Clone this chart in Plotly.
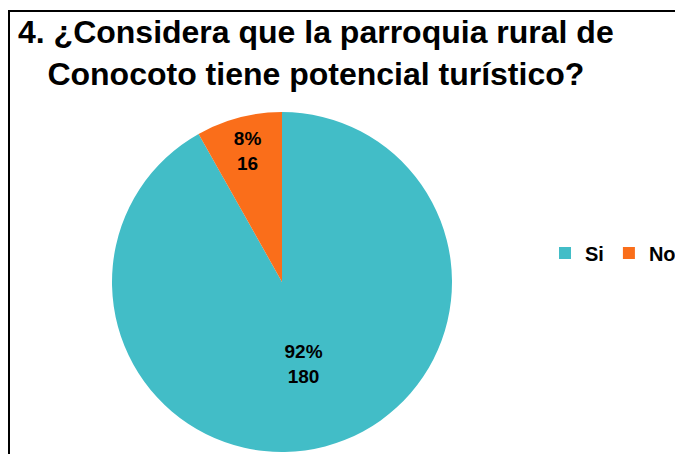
import plotly.graph_objects as go

labels = ["Si", "No"]
values = [180, 16]
percents = ["92%", "8%"]
colors = ["#42BDC7", "#FA6E1A"]
title_text = "<b>4. ¿Considera que la parroquia rural de<br>Conocoto tiene potencial turístico?</b>"

FONT = "Liberation Sans, Arial, sans-serif"
W, H = 683, 454

fig = go.Figure(go.Pie(
    labels=labels,
    values=values,
    customdata=percents,
    sort=False,
    direction="clockwise",
    rotation=0,
    marker=dict(colors=colors, line=dict(width=0)),
    texttemplate="<b>%{customdata}</b><br><b>%{value}</b>",
    textposition="inside",
    insidetextorientation="horizontal",
    textfont=dict(family=FONT, size=19, color="black"),
    hoverinfo="label+value+percent",
    domain=dict(x=[104/W, 444/W], y=[10/H, 1 - 104/H]),
))

fig.update_layout(
    width=W, height=H,
    margin=dict(l=0, r=0, t=0, b=0, autoexpand=False),
    paper_bgcolor="white",
    plot_bgcolor="white",
    legend=dict(
        orientation="h",
        x=537/W, xanchor="left",
        y=1 - 245/H, yanchor="middle",
        font=dict(family=FONT, size=20, color="black", weight="bold"),
        bgcolor="rgba(0,0,0,0)",
    ),
    annotations=[dict(
        text=title_text, showarrow=False,
        xref="paper", yref="paper",
        x=308/W, xanchor="center",
        y=1 - 4/H, yanchor="top",
        align="center",
        font=dict(family=FONT, size=32, color="black"),
    )],
    shapes=[dict(
        type="rect", xref="paper", yref="paper",
        x0=1/W, x1=1.05, y0=-0.05, y1=1 - 3/H,
        line=dict(color="black", width=2), fillcolor="rgba(0,0,0,0)",
        layer="below",
    )],
)

fig.write_html("out.html")
